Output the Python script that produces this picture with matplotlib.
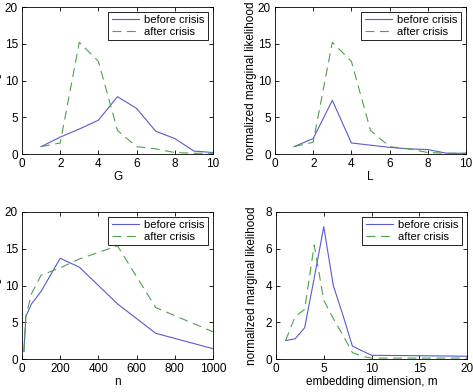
import numpy as np
import matplotlib
matplotlib.use("Agg")
import matplotlib.pyplot as plt

plt.rcParams['font.family'] = ['Liberation Sans', 'DejaVu Sans']
plt.rcParams['font.size'] = 8.5

# G panel
g_x = [1, 2, 3, 4, 5, 6, 7, 8, 9, 10]
g_before = [1.0, 2.3, 3.4, 4.6, 7.8, 6.2, 3.1, 2.1, 0.4, 0.2]
g_after = [1.0, 1.5, 15.2, 12.6, 3.2, 1.0, 0.7, 0.2, 0.1, 0.1]

# L panel
l_x = [1, 2, 3, 4, 5, 6, 7, 8, 9, 10]
l_before = [1.0, 2.1, 7.3, 1.5, 1.2, 0.9, 0.7, 0.6, 0.1, 0.1]
l_after = [1.0, 1.6, 15.2, 12.6, 3.2, 1.0, 0.7, 0.2, 0.1, 0.1]

# n panel
n_x = [10, 20, 50, 100, 200, 300, 500, 700, 1000]
n_before = [1.0, 5.8, 7.5, 9.2, 13.7, 12.5, 7.5, 3.5, 1.4]
n_after = [1.0, 5.8, 8.9, 11.4, 12.4, 13.6, 15.4, 7.0, 3.7]

# embedding dimension panel
m_x = [1, 2, 3, 4, 5, 6, 7, 8, 9, 10, 15, 20]
m_before = [1.0, 1.1, 1.7, 4.4, 7.2, 4.0, 2.4, 0.7, 0.45, 0.2, 0.18, 0.15]
m_after = [1.0, 2.3, 2.7, 6.2, 3.2, 2.2, 1.3, 0.35, 0.15, 0.05, 0.05, 0.05]

panels = [
    (g_x, g_before, g_after, "G", [0, 10], [0, 20], [0, 2, 4, 6, 8, 10], [0, 5, 10, 15, 20]),
    (l_x, l_before, l_after, "L", [0, 10], [0, 20], [0, 2, 4, 6, 8, 10], [0, 5, 10, 15, 20]),
    (n_x, n_before, n_after, "n", [0, 1000], [0, 20], [0, 200, 400, 600, 800, 1000], [0, 5, 10, 15, 20]),
    (m_x, m_before, m_after, "embedding dimension, m", [0, 20], [0, 8], [0, 5, 10, 15, 20], [0, 2, 4, 6, 8]),
]

W, H = 473, 392
boxes = [(22, 7), (275, 7), (22, 212), (276, 212)]  # left, top in pixels
label_off = [-20, -18, -20, -18]  # ylabel offset from axes, pixels
aw, ah = 191, 147

fig = plt.figure(figsize=(W / 100, H / 100), dpi=100)

for (x, before, after, xlab, xl, yl, xt, yt), (px, py), off in zip(panels, boxes, label_off):
    ax = fig.add_axes([px / W, (H - py - ah) / H, aw / W, ah / H])
    ax.plot(x, before, color='#5a5ad2', lw=0.8, label='before crisis')
    ax.plot(x, after, color='#4fa04f', lw=0.8, ls=(0, (8, 5)), label='after crisis')
    ax.set_xlim(xl)
    ax.set_ylim(yl)
    ax.set_xticks(xt)
    ax.set_yticks(yt)
    ax.tick_params(direction='in', top=True, right=True, length=3, width=0.6, pad=3)
    for s in ax.spines.values():
        s.set_linewidth(0.6)
    ax.set_xlabel(xlab, labelpad=0.5)
    # left column: label sits partly outside the figure, as in the source
    ax.yaxis.set_label_coords(off / aw, 0.5)
    ax.set_ylabel('normalized marginal likelihood')
    leg = ax.legend(loc='upper right', fancybox=False, edgecolor='black',
                    framealpha=1, borderaxespad=0.45, handlelength=2.5,
                    borderpad=0.3, labelspacing=0.12, handletextpad=0.45,
                    fontsize=8)
    leg.get_frame().set_linewidth(0.6)

fig.savefig('out.png', dpi=100)
